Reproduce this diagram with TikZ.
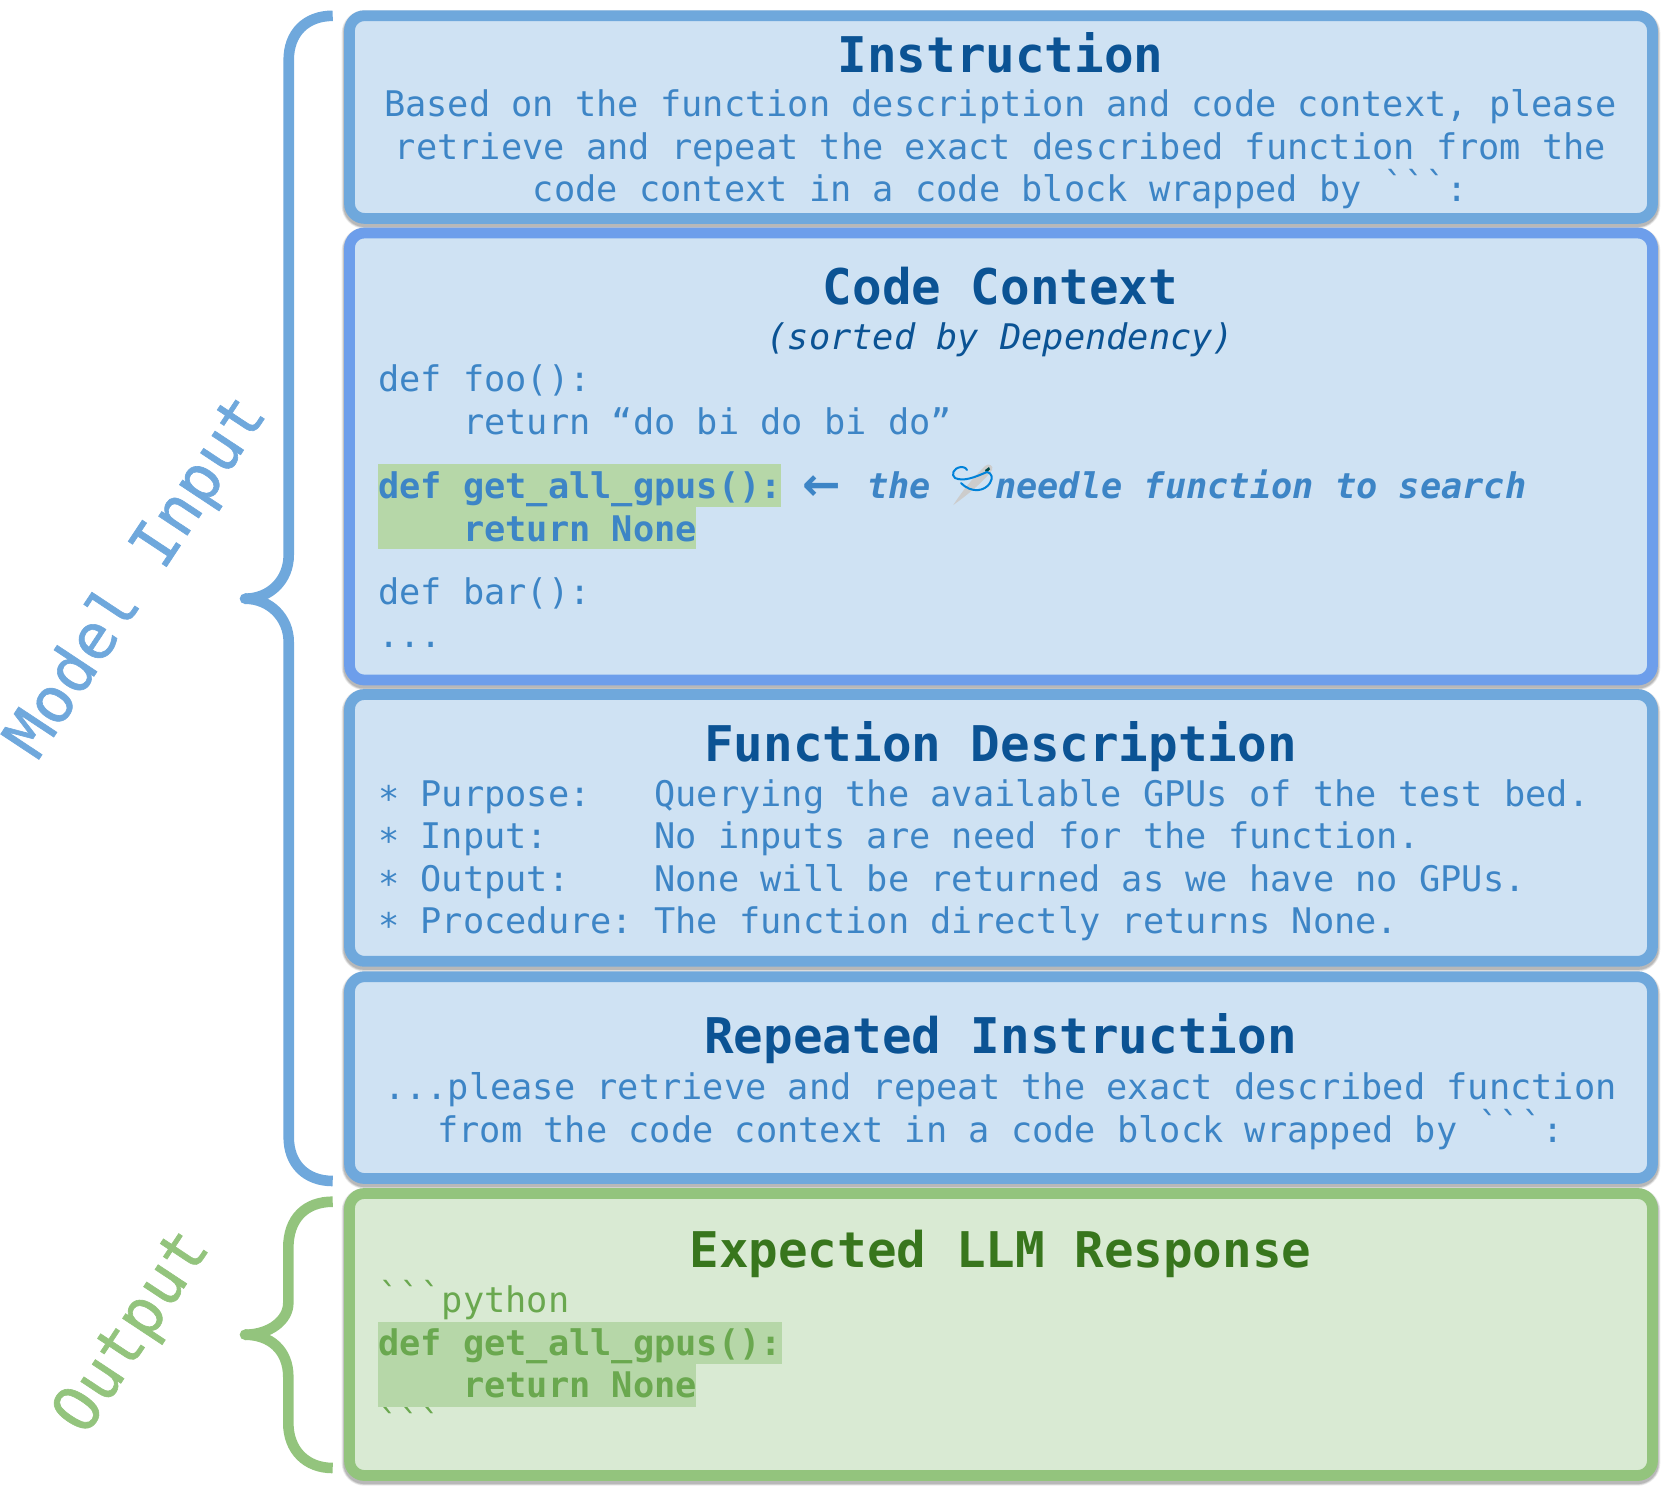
\documentclass[tikz,border=0pt]{standalone}
\usepackage{fontspec}
\setmainfont{DejaVu Sans Mono}[Ligatures=TeXOff,BoldFont={DejaVu Sans Mono Bold},ItalicFont={DejaVu Sans Mono Oblique},BoldItalicFont={DejaVu Sans Mono Bold Oblique}]
\newfontfamily\sidefont{DejaVu Sans Mono}[FakeBold=1]
\newfontfamily\arrowfont{DejaVu Sans Bold}
\definecolor{bfill}{HTML}{CFE2F3}
\definecolor{bline}{HTML}{6FA8DC}
\definecolor{cline}{HTML}{6D9EEB}
\definecolor{btext}{HTML}{3D85C6}
\definecolor{btitle}{HTML}{0B5394}
\definecolor{gfill}{HTML}{D9EAD3}
\definecolor{gline}{HTML}{93C47D}
\definecolor{ghigh}{HTML}{B6D7A8}
\definecolor{gtext}{HTML}{6AA84F}
\definecolor{gtitle}{HTML}{38761D}
\newcommand{\bticks}{\raisebox{0.12em}{\char96\char96\char96}}
\newcommand{\bul}{\raisebox{-0.16em}{*}}
\frenchspacing
\tikzset{
  panel/.style={draw=#1,line width=5.4pt,rounded corners=7.5pt,inner sep=0pt,outer sep=0pt,minimum width=651.5pt,
    preaction={draw=black,draw opacity=.08,line width=7.8pt,transform canvas={yshift=-1.2pt}},
    preaction={draw=black,draw opacity=.10,line width=7pt,transform canvas={yshift=-1.2pt}},
    preaction={draw=black,draw opacity=.13,line width=6.2pt,transform canvas={yshift=-1.2pt}}},
  titletext/.style={anchor=base,inner sep=0pt,outer sep=0pt,font=\fontsize{24.6pt}{30pt}\selectfont\bfseries},
  bodyc/.style={anchor=base,inner sep=0pt,outer sep=0pt,font=\fontsize{17.65pt}{21pt}\selectfont},
  bodyl/.style={anchor=base west,inner sep=0pt,outer sep=0pt,font=\fontsize{17.65pt}{21pt}\selectfont},
  sidetext/.style={anchor=center,inner sep=0pt,outer sep=0pt,rotate=56.5,font=\fontsize{31.5pt}{38pt}\sidefont},
  bracestroke/.style={line width=5.3pt,line cap=butt}
}
\begin{document}
\begin{tikzpicture}[x=0.5pt,y=-0.5pt]
\useasboundingbox (0,0) rectangle (1661,1494);
% panels
\node[panel=bline,fill=bfill,minimum height=101.35pt] (instr) at (1001,117.05) {};
\node[panel=cline,fill=bfill,minimum height=223.5pt] (ctx) at (1001,456.5) {};
\node[panel=bline,fill=bfill,minimum height=133.4pt] (desc) at (1001,827.9) {};
\node[panel=bline,fill=bfill,minimum height=100.9pt] (rep) at (1001,1077.6) {};
\node[panel=gline,fill=gfill,minimum height=141pt] (resp) at (1001,1334.5) {};
% instruction
\begin{scope}[every node/.append style={text=btext}]
\node[titletext,text=btitle] (t1) at (1000.5,72.5) {Instruction};
\node[bodyc] (i1) at (1000.5,116) {Based on the function description and code context, please};
\node[bodyc] (i2) at (1000.5,159.5) {retrieve and repeat the exact described function from the};
\node[bodyc] (i3) at (1000.5,201.5) {code context in a code block wrapped by \bticks:};
% code context
\node[titletext,text=btitle] (t2) at (1000.5,304) {Code Context};
\node[bodyc,text=btitle,font=\fontsize{17.65pt}{21pt}\selectfont\itshape] (t2s) at (1000.5,349.5) {(sorted by Dependency)};
\node[bodyl] (c1) at (378,391.7) {def foo():};
\node[bodyl] (c2) at (378,434) {~~~~return “do bi do bi do”};
\fill[ghigh] (378,464) rectangle (781,506.7);
\fill[ghigh] (378,506.7) rectangle (696,549);
\node[bodyl,font=\fontsize{17.65pt}{21pt}\selectfont\bfseries] (c3) at (378,498) {def get\_all\_gpus():};
\node[bodyl,font=\fontsize{17.65pt}{21pt}\selectfont\bfseries] (c4) at (378,541.2) {~~~~return None};
\node[bodyl,font=\fontsize{23pt}{26pt}\arrowfont] (arr) at (802,500.5) {←};
\node[bodyl,font=\fontsize{17.65pt}{21pt}\selectfont\bfseries\itshape] (the) at (867,498) {the};
\node[bodyl,font=\fontsize{17.65pt}{21pt}\selectfont\bfseries\itshape] (needletext) at (995,498) {needle function to search};
\node[bodyl] (c5) at (378,604) {def bar():};
\node[bodyl] (c6) at (378,647) {...};
% function description
\node[titletext,text=btitle] (t3) at (1000.5,761.5) {Function Description};
\node[bodyl] (d1) at (378,806) {\bul{} Purpose:~~~Querying the available GPUs of the test bed.};
\node[bodyl] (d2) at (378,848.3) {\bul{} Input:~~~~~No inputs are need for the function.};
\node[bodyl] (d3) at (378,891) {\bul{} Output:~~~~None will be returned as we have no GPUs.};
\node[bodyl] (d4) at (378,933.3) {\bul{} Procedure: The function directly returns None.};
% repeated instruction
\node[titletext,text=btitle] (t4) at (1000.5,1053.5) {Repeated Instruction};
\node[bodyc] (r1) at (1000.5,1099.5) {...please retrieve and repeat the exact described function};
\node[bodyc] (r2) at (1000.5,1142) {from the code context in a code block wrapped by \bticks:};
\end{scope}
% response
\begin{scope}[every node/.append style={text=gtext}]
\node[titletext,text=gtitle] (t5) at (1000.5,1267.5) {Expected LLM Response};
\node[bodyl] (o1) at (378,1312.7) {\bticks python};
\node[bodyl] (o4) at (378,1440) {\bticks};
\fill[ghigh] (378,1321.7) rectangle (781.5,1364);
\fill[ghigh] (378,1364) rectangle (696.4,1406.7);
\node[bodyl,font=\fontsize{17.65pt}{21pt}\selectfont\bfseries] (o2) at (378,1355) {def get\_all\_gpus():};
\node[bodyl,font=\fontsize{17.65pt}{21pt}\selectfont\bfseries] (o3) at (378,1397.5) {~~~~return None};
\end{scope}
% needle icon
\fill[black!20] (953.3,505) .. controls (965,487) and (975,476) .. (985,466) .. controls (989,462.5) and (994,466) .. (992,470) .. controls (985,480) and (970,493) .. cycle;
\fill[teal!60!black] (985,470) -- (989,467) -- (990,469.5) -- (986,473) -- cycle;
\draw[line width=1pt,color=blue!40!cyan!85!black,line cap=round]
  (987,472) .. controls (975,477) and (964,482) .. (955,478)
  .. controls (951,475) and (953,468) .. (961,467) .. controls (965,467) and (967,469) .. (967,470);
\draw[line width=1pt,color=blue!40!cyan!85!black,line cap=round]
  (961,483) .. controls (972,494) and (985,491) .. (990,483) .. controls (993,478) and (992,473) .. (987,472);
% blue brace
\draw[bline,bracestroke] (332.7,15.8) .. controls (306,15.8) and (288.7,33) .. (288.7,60) -- (288.7,555) .. controls (288.7,580) and (270,598.7) .. (245,598.7);
\draw[bline,bracestroke] (245,598.7) .. controls (270,598.7) and (288.7,618) .. (288.7,642) -- (288.7,1137) .. controls (288.7,1164) and (306,1181) .. (332.7,1181);
\fill[bline] (245,598.7) circle[radius=2.65pt];
% green brace
\draw[gline,bracestroke] (332.7,1201.7) .. controls (306,1201.7) and (288.3,1218) .. (288.3,1248) -- (288.3,1303) .. controls (288.3,1320) and (270,1334.7) .. (245,1334.7);
\draw[gline,bracestroke] (245,1334.7) .. controls (270,1334.7) and (288.3,1350) .. (288.3,1377) -- (288.3,1423) .. controls (288.3,1450) and (306,1468) .. (332.7,1468);
\fill[gline] (245,1334.7) circle[radius=2.65pt];
% side labels
\node[sidetext,text=bline] (inputlabel) at (138,578) {Model Input};
\node[sidetext,text=gline] (outputlabel) at (134,1333) {Output};
\end{tikzpicture}
\end{document}
